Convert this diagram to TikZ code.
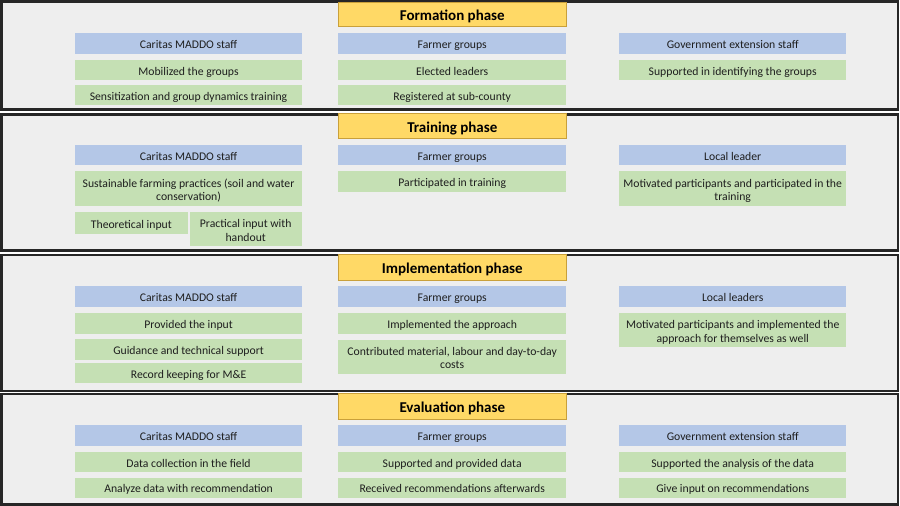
\documentclass[tikz,border=0pt]{standalone}
\usepackage{fontspec}
\setmainfont{Carlito}
\definecolor{panelgray}{HTML}{EEEEEE}
\definecolor{roleblue}{HTML}{B4C7E7}
\definecolor{actgreen}{HTML}{C5E0B4}
\definecolor{gold}{HTML}{FFD966}
\definecolor{goldline}{HTML}{C9A03A}
\definecolor{ink}{HTML}{1E1E1E}
\tikzset{
  panel/.style={draw=black!85, line width=2.4pt, fill=panelgray},
  cell/.style={anchor=north west, inner sep=0pt, align=center, font=\fontsize{11.7}{13.6}\selectfont, text=ink},
  role/.style={cell, fill=roleblue},
  act/.style={cell, fill=actgreen},
  phasebox/.style={anchor=north west, inner sep=0pt, fill=gold, draw=goldline, line width=0.6pt, font=\bfseries\fontsize{15}{17}\selectfont, text=black},
}
\newcommand\topstrut{\rule{0pt}{14.1pt}}
\newcommand\botstrut{\rule[-3.5pt]{0pt}{3.5pt}}
\newcommand\tstrut{\rule[-3pt]{0pt}{18.5pt}}
\newcommand\mkcell[6]{\node[#1, minimum width=#4pt, minimum height=#5pt] (#2) at (#3) {\topstrut#6\botstrut};}
\newcommand\mkphase[4]{\node[phasebox, minimum width=228pt, minimum height=#3pt] (#1) at (#2) {\tstrut#4};}
\begin{document}
\begin{tikzpicture}[x=1pt,y=-1pt]
\useasboundingbox (0,0) rectangle (900,506);
% panels
\draw[panel] (1.5,1.5) rectangle (898,109.5);
\draw[panel] (1.5,114.5) rectangle (898,250.5);
\draw[panel] (1.5,255) rectangle (898,391);
\draw[panel] (1.5,394) rectangle (898,504.5);
% ---- Formation
\mkphase{t1}{338,1.5}{24.5}{Formation phase}
\mkcell{role}{p1c1r}{75,32.7}{226.7}{20.6}{Caritas MADDO staff}
\mkcell{act}{p1c1a}{75,60}{226.7}{20}{Mobilized the groups}
\mkcell{act}{p1c1b}{75,85}{226.7}{20}{Sensitization and group dynamics training}
\mkcell{role}{p1c2r}{338,32.7}{228}{20.6}{Farmer groups}
\mkcell{act}{p1c2a}{338,60}{228}{20}{Elected leaders}
\mkcell{act}{p1c2b}{338,85}{228}{20}{Registered at sub-county}
\mkcell{role}{p1c3r}{619,32.7}{227}{20.6}{Government extension staff}
\mkcell{act}{p1c3a}{619,60}{227}{20}{Supported in identifying the groups}
% ---- Training
\mkphase{t2}{338,113}{25}{Training phase}
\mkcell{role}{p2c1r}{75,144.3}{226.7}{20.7}{Caritas MADDO staff}
\mkcell{act}{p2c1a}{75,171}{226.7}{35}{Sustainable farming practices (soil and water\\conservation)}
\mkcell{act}{p2c1b}{75,212}{112.3}{21.3}{Theoretical input}
\mkcell{act}{p2c1c}{189.3,212}{112.4}{34}{Practical input with\\handout}
\mkcell{role}{p2c2r}{338,144.3}{228}{20.7}{Farmer groups}
\mkcell{act}{p2c2a}{338,171}{228}{20.7}{Participated in training}
\mkcell{role}{p2c3r}{619,144.3}{227}{20.7}{Local leader}
\mkcell{act}{p2c3a}{619,171}{227}{35}{Motivated participants and participated in the\\training}
% ---- Implementation
\mkphase{t3}{338,254}{26}{Implementation phase}
\mkcell{role}{p3c1r}{75,285.7}{226.7}{20.6}{Caritas MADDO staff}
\mkcell{act}{p3c1a}{75,312.7}{226.7}{20.6}{Provided the input}
\mkcell{act}{p3c1b}{75,338.3}{226.7}{21}{Guidance and technical support}
\mkcell{act}{p3c1c}{75,362.3}{226.7}{20.4}{Record keeping for M\&E}
\mkcell{role}{p3c2r}{338,285.7}{228}{20.6}{Farmer groups}
\mkcell{act}{p3c2a}{338,312.7}{228}{20.6}{Implemented the approach}
\mkcell{act}{p3c2b}{338,339.3}{228}{34}{Contributed material, labour and day-to-day\\costs}
\mkcell{role}{p3c3r}{619,285.7}{227}{20.6}{Local leaders}
\mkcell{act}{p3c3a}{619,312.7}{227}{34}{Motivated participants and implemented the\\approach for themselves as well}
% ---- Evaluation
\mkphase{t4}{338,393}{26}{Evaluation phase}
\mkcell{role}{p4c1r}{75,425}{226.7}{20.3}{Caritas MADDO staff}
\mkcell{act}{p4c1a}{75,451.7}{226.7}{20}{Data collection in the field}
\mkcell{act}{p4c1b}{75,477.3}{226.7}{20}{Analyze data with recommendation}
\mkcell{role}{p4c2r}{338,425}{228}{20.3}{Farmer groups}
\mkcell{act}{p4c2a}{338,451.7}{228}{20}{Supported and provided data}
\mkcell{act}{p4c2b}{338,477.3}{228}{20}{Received recommendations afterwards}
\mkcell{role}{p4c3r}{619,425}{227}{20.3}{Government extension staff}
\mkcell{act}{p4c3a}{619,451.7}{227}{20}{Supported the analysis of the data}
\mkcell{act}{p4c3b}{619,477.3}{227}{20}{Give input on recommendations}
\end{tikzpicture}
\end{document}
